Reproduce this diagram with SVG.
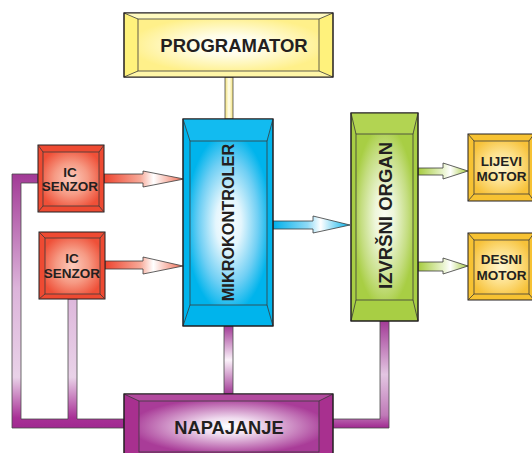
<svg xmlns="http://www.w3.org/2000/svg" width="532" height="453" viewBox="0 0 532 453">
<defs>
<radialGradient id="gY" cx="0.5" cy="0.5" r="0.55"><stop offset="0" stop-color="#ffffff"/><stop offset="0.35" stop-color="#fffde8"/><stop offset="1" stop-color="#fff08a"/></radialGradient>
<radialGradient id="gB" cx="0.5" cy="0.5" r="0.55"><stop offset="0" stop-color="#ffffff"/><stop offset="0.3" stop-color="#e4f6fd"/><stop offset="0.7" stop-color="#6fcff4"/><stop offset="1" stop-color="#00b4ec"/></radialGradient>
<radialGradient id="gG" cx="0.5" cy="0.5" r="0.55"><stop offset="0" stop-color="#fafcf2"/><stop offset="0.3" stop-color="#eef6da"/><stop offset="0.75" stop-color="#c4dd80"/><stop offset="1" stop-color="#a8ce44"/></radialGradient>
<radialGradient id="gR" cx="0.5" cy="0.5" r="0.6"><stop offset="0" stop-color="#fccabc"/><stop offset="0.5" stop-color="#f69a84"/><stop offset="1" stop-color="#ef5038"/></radialGradient>
<radialGradient id="gO" cx="0.5" cy="0.5" r="0.6"><stop offset="0" stop-color="#fff6d0"/><stop offset="0.5" stop-color="#fde08a"/><stop offset="1" stop-color="#f7c23a"/></radialGradient>
<radialGradient id="gP" cx="0.5" cy="0.5" r="0.55"><stop offset="0" stop-color="#ffffff"/><stop offset="0.3" stop-color="#f0dcef"/><stop offset="1" stop-color="#a93c98"/></radialGradient>
<linearGradient id="aR" x1="0" y1="0" x2="1" y2="0"><stop offset="0" stop-color="#ee4530"/><stop offset="0.45" stop-color="#f7a897"/><stop offset="0.62" stop-color="#ffffff"/><stop offset="1" stop-color="#f06a50"/></linearGradient>
<linearGradient id="aB" x1="0" y1="0" x2="1" y2="0"><stop offset="0" stop-color="#00b0ea"/><stop offset="0.45" stop-color="#8fdaf6"/><stop offset="0.62" stop-color="#ffffff"/><stop offset="1" stop-color="#00b0ea"/></linearGradient>
<linearGradient id="aG" x1="0" y1="0" x2="1" y2="0"><stop offset="0" stop-color="#a6cc3e"/><stop offset="0.5" stop-color="#e8f3cc"/><stop offset="0.65" stop-color="#ffffff"/><stop offset="1" stop-color="#a6cc3e"/></linearGradient>
<linearGradient id="pY" x1="0" y1="0" x2="1" y2="0"><stop offset="0" stop-color="#f4e27a"/><stop offset="0.5" stop-color="#fffff0"/><stop offset="1" stop-color="#f4e27a"/></linearGradient>
<linearGradient id="pV" x1="0" y1="0" x2="0" y2="1"><stop offset="0" stop-color="#a23a96"/><stop offset="0.5" stop-color="#fbf2fa"/><stop offset="1" stop-color="#a23a96"/></linearGradient>
<linearGradient id="pL" gradientUnits="userSpaceOnUse" x1="0" y1="174" x2="0" y2="428"><stop offset="0" stop-color="#a23a96"/><stop offset="0.45" stop-color="#dcb4da"/><stop offset="0.8" stop-color="#e9d2e8"/><stop offset="0.96" stop-color="#a83096"/><stop offset="1" stop-color="#a02890"/></linearGradient>
<linearGradient id="pR" gradientUnits="userSpaceOnUse" x1="0" y1="321" x2="0" y2="428"><stop offset="0" stop-color="#a23a96"/><stop offset="0.5" stop-color="#e3c6e2"/><stop offset="0.88" stop-color="#c07ab8"/><stop offset="1" stop-color="#a02890"/></linearGradient>
</defs>
<style>
.o{stroke:#231f20;stroke-width:1}
.i{stroke:#3a3a3a;stroke-width:0.8}
.l{stroke:#3a3a3a;stroke-width:0.8;fill:none}
.f{fill:none;stroke:#231f20;stroke-width:1}
.p{stroke:#4a4a4a;stroke-width:0.8}
.a{stroke:#3a3a3a;stroke-width:0.8}
text{font-family:"Liberation Sans",Arial,sans-serif;font-weight:bold;fill:#231f20;text-anchor:middle}
</style>

<g id="connectors">
<rect class="p" x="225" y="77" width="8" height="42" fill="url(#pY)"/>
<rect class="p" x="224" y="326" width="9" height="68" fill="url(#pV)"/>
<path class="p" fill="url(#pL)" d="M38,174 H12 V428 H124 V419 H77 V299 H68 V419 H21 V183 H38 Z"/>
<path class="p" fill="url(#pR)" d="M380,321 H389 V428 H333 V419 H380 Z"/>
<polygon class="a" fill="url(#aR)" points="104,174 143,174 143,171 184,179 143,187 143,183 104,183"/>
<polygon class="a" fill="url(#aR)" points="105,261 143,261 143,257 183,266 143,274 143,269 105,269"/>
<polygon class="a" fill="url(#aB)" points="273,221 313,221 313,216 350,225 313,233 313,229 273,229"/>
<polygon class="a" fill="url(#aG)" points="418,168 443,168 443,163 468,171 443,179 443,175 418,175"/>
<polygon class="a" fill="url(#aG)" points="418,262 443,262 443,258 468,266 443,274 443,271 418,271"/>
</g>

<g id="programator">
<rect class="o" x="124" y="13" width="209" height="64" fill="#fff27c"/>
<polygon points="124,13 333,13 319,19 138,19" fill="#fffac0"/>
<polygon points="124,77 333,77 319,71 138,71" fill="#fff6a8"/>
<rect class="i" x="138" y="19" width="181" height="52" fill="url(#gY)"/>
<path class="l" d="M124,13 L138,19 M333,13 L319,19 M124,77 L138,71 M333,77 L319,71"/>
<rect class="f" x="124" y="13" width="209" height="64"/>
<text x="234" y="52" font-size="18.5">PROGRAMATOR</text>
</g>

<g id="mikrokontroler">
<rect class="o" x="183" y="119" width="90" height="207" fill="#00b4ec"/>
<polygon points="183,119 273,119 267,141 190,141" fill="#12bbf0"/>
<rect class="i" x="190" y="141" width="77" height="164" fill="url(#gB)"/>
<path class="l" d="M183,119 L190,141 M273,119 L267,141 M183,326 L190,305 M273,326 L267,305"/>
<rect class="f" x="183" y="119" width="90" height="207"/>
<text transform="translate(234,222.5) rotate(-90)" font-size="16.3">MIKROKONTROLER</text>
</g>

<g id="izvrsni-organ">
<rect class="o" x="351" y="113" width="67" height="208" fill="#a8ce44"/>
<polygon points="351,113 418,113 413,134 356,134" fill="#b2d452"/>
<rect class="i" x="356" y="134" width="57" height="166" fill="url(#gG)"/>
<path class="l" d="M351,113 L356,134 M418,113 L413,134 M351,321 L356,300 M418,321 L413,300"/>
<rect class="f" x="351" y="113" width="67" height="208"/>
<text transform="translate(392,215.5) rotate(-90)" font-size="18.5">IZVRŠNI ORGAN</text>
</g>

<g id="ic-senzor-1">
<rect class="o" x="38" y="145" width="66" height="67" fill="#ee4a32"/>
<rect class="i" x="43" y="152" width="56" height="54" fill="url(#gR)"/>
<path class="l" d="M38,145 L43,152 M104,145 L99,152 M38,212 L43,206 M104,212 L99,206"/>
<text x="70" y="176.5" font-size="13.5">IC</text>
<text x="70" y="190.5" font-size="13.5">SENZOR</text>
</g>

<g id="ic-senzor-2">
<rect class="o" x="39" y="232" width="66" height="67" fill="#ee4a32"/>
<rect class="i" x="45" y="238" width="55" height="56" fill="url(#gR)"/>
<path class="l" d="M39,232 L45,238 M105,232 L100,238 M39,299 L45,294 M105,299 L100,294"/>
<text x="72" y="263" font-size="13.5">IC</text>
<text x="72" y="277.5" font-size="13.5">SENZOR</text>
</g>

<g id="lijevi-motor">
<rect class="o" x="468" y="134" width="66" height="67" fill="#f7c232"/>
<rect class="i" x="474" y="141" width="55" height="53" fill="url(#gO)"/>
<path class="l" d="M468,134 L474,141 M534,134 L529,141 M468,201 L474,194 M534,201 L529,194"/>
<text x="501.5" y="165.5" font-size="13.5">LIJEVI</text>
<text x="501.5" y="180.5" font-size="13.5">MOTOR</text>
</g>

<g id="desni-motor">
<rect class="o" x="468" y="233" width="66" height="67" fill="#f7c232"/>
<rect class="i" x="474" y="240" width="55" height="54" fill="url(#gO)"/>
<path class="l" d="M468,233 L474,240 M534,233 L529,240 M468,300 L474,294 M534,300 L529,294"/>
<text x="501.5" y="264" font-size="13.5">DESNI</text>
<text x="501.5" y="279.5" font-size="13.5">MOTOR</text>
</g>

<g id="napajanje">
<rect class="o" x="124" y="394" width="209" height="64" fill="#a8308f"/>
<polygon points="124,394 333,394 319,401 139,401" fill="#b24a9e"/>
<rect class="i" x="139" y="401" width="180" height="51" fill="url(#gP)"/>
<path class="l" d="M124,394 L139,401 M333,394 L319,401"/>
<rect class="f" x="124" y="394" width="209" height="64"/>
<text x="229" y="434" font-size="18.3">NAPAJANJE</text>
</g>
</svg>
